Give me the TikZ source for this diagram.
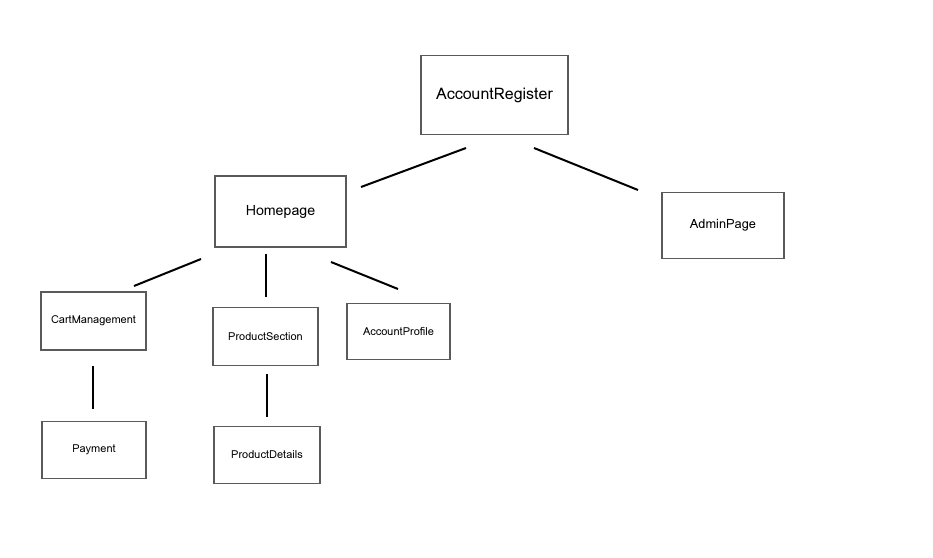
\documentclass[tikz,border=0pt]{standalone}
\usepackage{fontspec}
\setmainfont{Loma}
\usetikzlibrary{positioning}
\definecolor{BoxLine}{HTML}{5A5A5A}
\tikzset{
  pagebox/.style={draw=BoxLine, line width=1.1pt, fill=white, align=center, inner sep=0pt},
  bigbox/.style={pagebox, minimum width=147pt, minimum height=79pt, font=\fontsize{16}{18}\selectfont},
  midbox/.style={pagebox, minimum width=131pt, minimum height=71pt, font=\fontsize{14.2}{16}\selectfont},
  smallbox/.style={pagebox, minimum width=105pt, minimum height=58pt, font=\fontsize{11}{13}\selectfont},
  link/.style={line width=2pt, draw=black}
}
\begin{document}
\begin{tikzpicture}[x=1pt, y=-1pt]
    \useasboundingbox[fill=white] (0,0) rectangle (933,557);

    % pages
    \node[bigbox] (register) at (494.5,95) {AccountRegister};
    \node[midbox] (home) at (280.5,211.5) {Homepage};
    \node[smallbox, minimum width=122pt, minimum height=66pt, font=\fontsize{12.8}{14}\selectfont] (admin) at (723,225.5) {AdminPage};
    \node[smallbox] (cart) at (93.5,321) {CartManagement};
    \node[smallbox] (section) at (265.5,336.5) {ProductSection};
    \node[smallbox, minimum width=103pt, minimum height=56pt] (profile) at (398.5,331.5) {AccountProfile};
    \node[smallbox, minimum width=104pt, minimum height=57pt] (payment) at (94,450) {Payment};
    \node[smallbox, minimum width=106pt, minimum height=57pt] (details) at (267,455) {ProductDetails};

    % line ends
    \coordinate (registerL) at (466,148);
    \coordinate (registerR) at (534,148);
    \coordinate (homeT) at (361,187);
    \coordinate (adminT) at (638,190);
    \coordinate (homeL) at (201,259);
    \coordinate (homeM) at (266,254);
    \coordinate (homeR) at (331,262);
    \coordinate (cartT) at (134,286);
    \coordinate (sectionT) at (266,297);
    \coordinate (profileT) at (398,289);
    \coordinate (cartB) at (93,366);
    \coordinate (paymentT) at (93,409);
    \coordinate (sectionB) at (267,374);
    \coordinate (detailsT) at (267,417);

    \draw[link] (registerL) -- (homeT);
    \draw[link] (registerR) -- (adminT);
    \draw[link] (homeL) -- (cartT);
    \draw[link] (homeM) -- (sectionT);
    \draw[link] (homeR) -- (profileT);
    \draw[link] (cartB) -- (paymentT);
    \draw[link] (sectionB) -- (detailsT);
\end{tikzpicture}
\end{document}
